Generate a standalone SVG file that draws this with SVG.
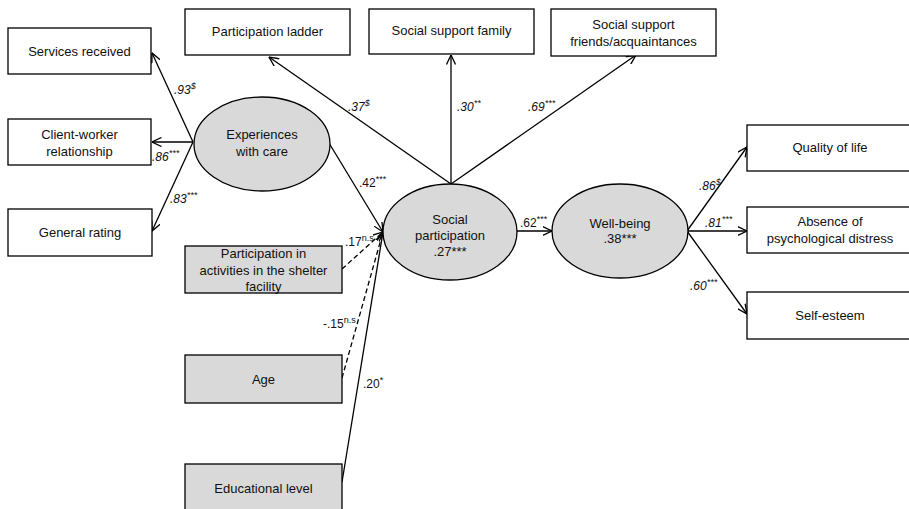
<svg xmlns="http://www.w3.org/2000/svg" width="909" height="509" viewBox="0 0 909 509">
<defs>
<style>
.box{fill:#fff;stroke:#000;stroke-width:1.3}
.gbox{fill:#d9d9d9;stroke:#000;stroke-width:1.3}
.ell{fill:#d9d9d9;stroke:#000;stroke-width:1.3}
.t{font-family:"Liberation Sans",Arial,sans-serif;font-size:13px;fill:#111;text-anchor:middle}
.lb{font-family:"Liberation Sans",Arial,sans-serif;font-size:12px;fill:#111}
.it{font-style:italic}
.sup{font-size:9px}
.c{stroke:#000;stroke-width:1.3;fill:none;marker-end:url(#arr)}
.d{stroke-dasharray:5,3}
</style>
<marker id="arr" viewBox="0 0 10 10" refX="9.5" refY="5" markerWidth="10" markerHeight="10" orient="auto" markerUnits="userSpaceOnUse">
<path d="M0,0.5 L9.5,5 L0,9.5" fill="none" stroke="#000" stroke-width="1.3"/>
</marker>
</defs>
<rect width="909" height="509" fill="#fff"/>

<g id="connectors">
<line class="c" x1="193" y1="142" x2="152" y2="53"/>
<line class="c" x1="193" y1="142" x2="152" y2="142"/>
<line class="c" x1="193" y1="142" x2="152" y2="231"/>
<line class="c" x1="451" y1="184" x2="269" y2="57"/>
<line class="c" x1="451" y1="184" x2="451" y2="55"/>
<line class="c" x1="451" y1="184" x2="636" y2="55"/>
<line class="c" x1="329" y1="143" x2="383" y2="232"/>
<line class="c d" x1="342" y1="269" x2="383" y2="232"/>
<line class="c d" x1="342" y1="378" x2="383" y2="232"/>
<line class="c" x1="342" y1="482" x2="383" y2="232"/>
<line class="c" x1="517" y1="231" x2="552" y2="231"/>
<line class="c" x1="687" y1="231" x2="747" y2="147"/>
<line class="c" x1="687" y1="231" x2="747" y2="231"/>
<line class="c" x1="687" y1="231" x2="747" y2="314"/>
</g>

<g id="labels">
<text class="lb it" x="174" y="94">.93<tspan class="sup" dy="-5">$</tspan></text>
<text class="lb it" x="152" y="161">.86<tspan class="sup" dy="-5">***</tspan></text>
<text class="lb it" x="170" y="203">.83<tspan class="sup" dy="-5">***</tspan></text>
<text class="lb it" x="348" y="111">.37<tspan class="sup" dy="-5">$</tspan></text>
<text class="lb it" x="457" y="111">.30<tspan class="sup" dy="-5">**</tspan></text>
<text class="lb it" x="528" y="111">.69<tspan class="sup" dy="-5">***</tspan></text>
<text class="lb" x="359" y="187">.42<tspan class="sup" dy="-5">***</tspan></text>
<text class="lb" x="345" y="246">.17<tspan class="sup" dy="-5">n.s</tspan></text>
<text class="lb" x="323" y="328">-.15<tspan class="sup" dy="-5">n.s</tspan></text>
<text class="lb" x="363" y="388">.20<tspan class="sup" dy="-5">*</tspan></text>
<text class="lb" x="520" y="227">.62<tspan class="sup" dy="-5">***</tspan></text>
<text class="lb it" x="699" y="190">.86<tspan class="sup" dy="-5">$</tspan></text>
<text class="lb it" x="705" y="227">.81<tspan class="sup" dy="-5">***</tspan></text>
<text class="lb it" x="690" y="290">.60<tspan class="sup" dy="-5">***</tspan></text>
</g>

<g id="services-received">
<rect class="box" x="8" y="28" width="143" height="46"/>
<text class="t" x="79.5" y="56">Services received</text>
</g>
<g id="client-worker">
<rect class="box" x="8" y="119" width="143" height="46"/>
<text class="t" x="79.5" y="139">Client-worker</text>
<text class="t" x="79.5" y="156">relationship</text>
</g>
<g id="general-rating">
<rect class="box" x="8" y="209" width="144" height="47"/>
<text class="t" x="80" y="237">General rating</text>
</g>
<g id="participation-ladder">
<rect class="box" x="185" y="9" width="165" height="46"/>
<text class="t" x="267.5" y="36">Participation ladder</text>
</g>
<g id="social-support-family">
<rect class="box" x="369" y="9" width="165" height="45"/>
<text class="t" x="451.5" y="35">Social support family</text>
</g>
<g id="social-support-friends">
<rect class="box" x="551" y="9" width="165" height="47"/>
<text class="t" x="633.5" y="29">Social support</text>
<text class="t" x="633.5" y="46">friends/acquaintances</text>
</g>
<g id="experiences-with-care">
<ellipse class="ell" cx="262" cy="144" rx="68" ry="47"/>
<text class="t" x="262" y="139">Experiences</text>
<text class="t" x="262" y="156">with care</text>
</g>
<g id="social-participation">
<ellipse class="ell" cx="450" cy="232" rx="67" ry="48"/>
<text class="t" x="450" y="224">Social</text>
<text class="t" x="450" y="240">participation</text>
<text class="t" x="450" y="256">.27***</text>
</g>
<g id="well-being">
<ellipse class="ell" cx="620" cy="231" rx="68" ry="47"/>
<text class="t" x="620" y="228">Well-being</text>
<text class="t" x="620" y="243">.38***</text>
</g>
<g id="participation-activities">
<rect class="gbox" x="185" y="246" width="157" height="47"/>
<text class="t" x="263.5" y="258">Participation in</text>
<text class="t" x="263.5" y="275">activities in the shelter</text>
<text class="t" x="263.5" y="291">facility</text>
</g>
<g id="age">
<rect class="gbox" x="185" y="355" width="157" height="48"/>
<text class="t" x="263.5" y="384">Age</text>
</g>
<g id="educational-level">
<rect class="gbox" x="185" y="464" width="157" height="52"/>
<text class="t" x="263.5" y="493">Educational level</text>
</g>
<g id="quality-of-life">
<rect class="box" x="747" y="125" width="166" height="46"/>
<text class="t" x="830" y="152">Quality of life</text>
</g>
<g id="absence-distress">
<rect class="box" x="747" y="207" width="166" height="46"/>
<text class="t" x="830" y="226">Absence of</text>
<text class="t" x="830" y="243">psychological distress</text>
</g>
<g id="self-esteem">
<rect class="box" x="747" y="292" width="166" height="47"/>
<text class="t" x="830" y="320">Self-esteem</text>
</g>
</svg>
